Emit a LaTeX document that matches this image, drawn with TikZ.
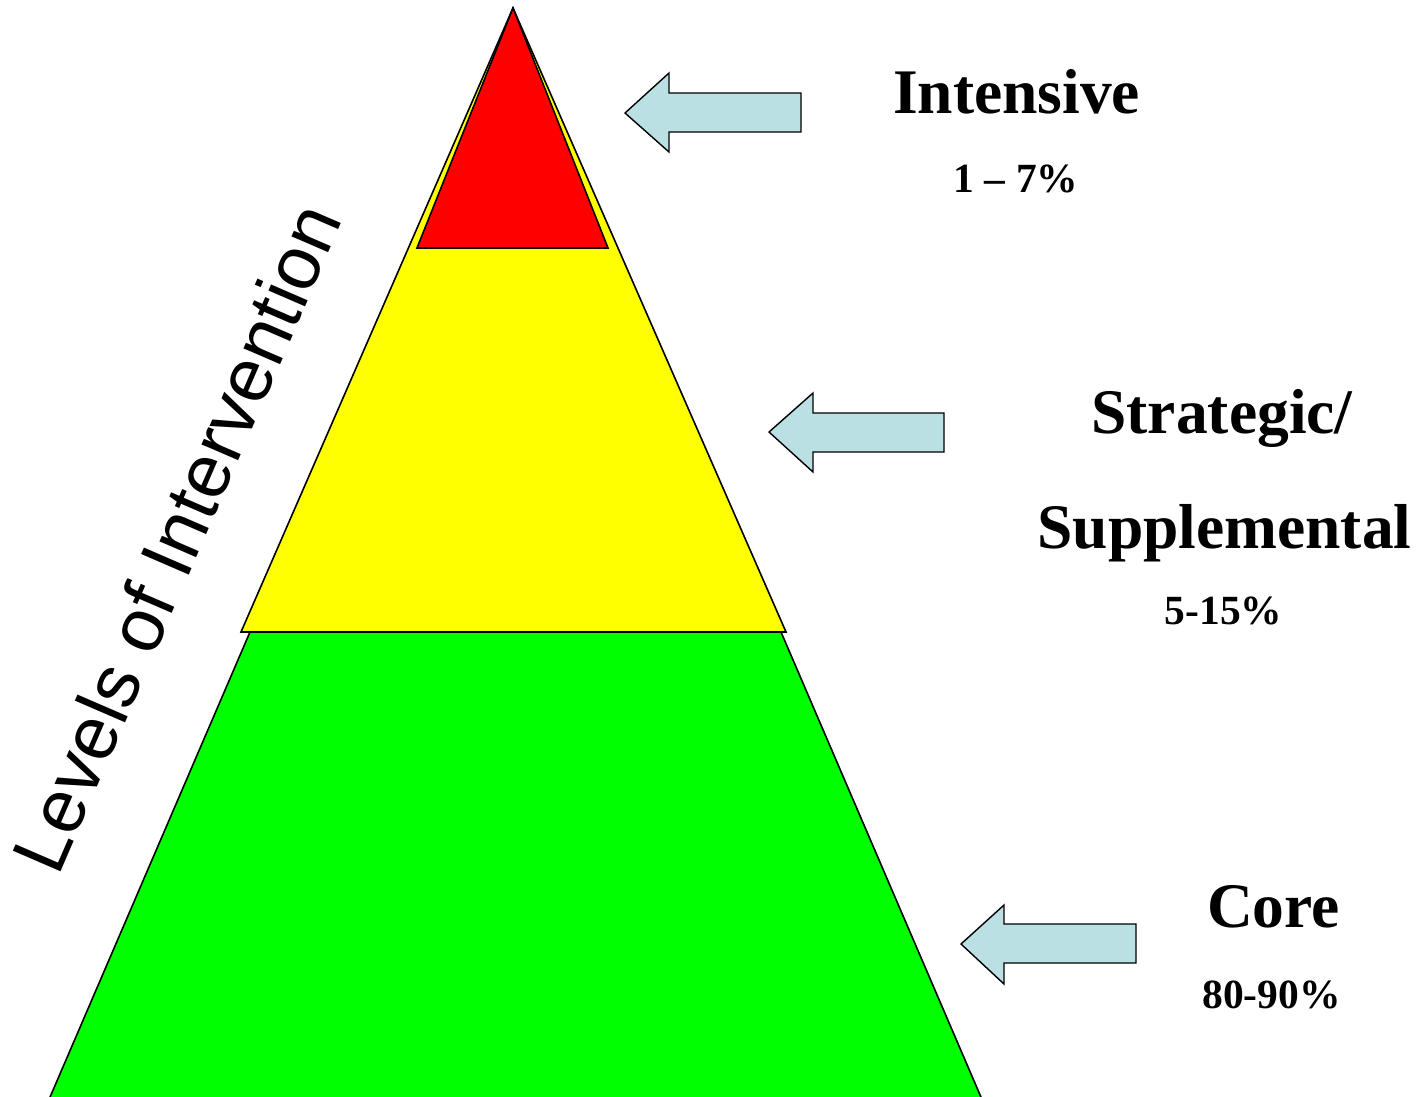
\documentclass[tikz,border=0pt]{standalone}
\usepackage{fontspec}
\setmainfont{Liberation Serif}
\newfontfamily\levelsfont{Liberation Sans}
\definecolor{tierred}{HTML}{FF0000}
\definecolor{tieryellow}{HTML}{FFFF00}
\definecolor{tiergreen}{HTML}{00FF00}
\definecolor{arrowblue}{HTML}{BBE0E3}
\tikzset{
  tier/.style={draw=black, line width=1.6pt, line join=miter},
  bigarrow/.style={draw=black, fill=arrowblue, line width=1.4pt, line join=miter},
  title/.style={inner sep=0pt, anchor=base, font=\fontsize{63.5}{70}\selectfont\bfseries},
  pct/.style={inner sep=0pt, anchor=base, font=\fontsize{41.5}{46}\selectfont\bfseries},
}
\begin{document}
\begin{tikzpicture}[x=1pt, y=-1pt]
\useasboundingbox (0,0) rectangle (1418,1096);
\clip (0,0) rectangle (1418,1096);
% pyramid tiers
\draw[tier, fill=tiergreen] (250,632) -- (781,632) -- (1002,1146) -- (29,1146) -- cycle;
\draw[tier, fill=tieryellow] (513,8) -- (786,632) -- (241,632) -- cycle;
\draw[tier, fill=tierred] (513,8) -- (608,248) -- (417,248) -- cycle;
% arrows
\draw[bigarrow] (625,113) -- (669,73) -- (669,93) -- (801,93) -- (801,132) -- (669,132) -- (669,152) -- cycle;
\draw[bigarrow] (769,432) -- (813,393) -- (813,413) -- (944,413) -- (944,452) -- (813,452) -- (813,472) -- cycle;
\draw[bigarrow] (961,944) -- (1004,905) -- (1004,924) -- (1136,924) -- (1136,963) -- (1004,963) -- (1004,984) -- cycle;
% labels
\node[title] (intensive) at (1016.5,113) {Intensive};
\node[pct] (intensivepct) at (1016,192) {1 – 7\%};
\node[title] (strategic) at (1222,433) {Strategic/};
\node[title] (supplemental) at (1224.5,548) {Supplemental};
\node[pct] (strategicpct) at (1223.5,624) {5-15\%};
\node[title] (core) at (1273.5,927) {Core};
\node[pct] (corepct) at (1271.5,1008) {80-90\%};
\node[inner sep=0pt, anchor=base west, rotate=66.6, font=\fontsize{75.5}{80}\selectfont\levelsfont] (levels) at (58,878) {Levels of Intervention};
\end{tikzpicture}
\end{document}
